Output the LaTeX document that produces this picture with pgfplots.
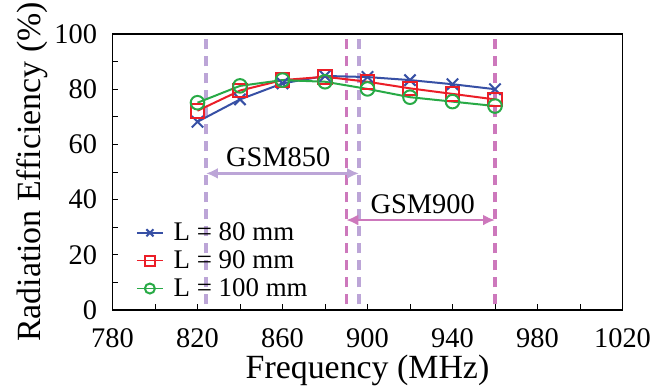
\documentclass[border=0pt]{standalone}
\usepackage{pgfplots}
\pgfplotsset{compat=1.18}
\usepackage{fontspec}
\setmainfont{Liberation Serif}
\usetikzlibrary{arrows.meta}
\definecolor{cblue}{RGB}{55,80,165}
\definecolor{cred}{RGB}{235,30,40}
\definecolor{cgreen}{RGB}{40,170,70}
\definecolor{clav}{RGB}{188,165,215}
\definecolor{cpink}{RGB}{205,120,188}
\begin{document}
\begin{tikzpicture}
\path[use as bounding box] (-112.5bp,-76bp) rectangle (555.5bp,310bp);
\begin{axis}[
  scale only axis,
  width=510bp, height=276bp,
  xmin=780, xmax=1020, ymin=0, ymax=100,
  xtick={780,820,...,1020},
  minor xtick={800,840,...,1000},
  ytick={0,20,...,100},
  minor ytick={10,30,...,90},
  tick align=inside,
  xtick pos=bottom, ytick pos=left,
  major tick length=6bp, minor tick length=6bp,
  tick style={line width=0.8bp, black},
  axis line style={line width=1.3bp},
  /pgf/number format/assume math mode=true,
  /pgf/number format/1000 sep={},
  ticklabel style={font=\fontsize{28.5}{30}\selectfont},
  xticklabel style={yshift=-15bp},
  yticklabel style={xshift=-12bp},
  xlabel={Frequency (MHz)},
  ylabel={Radiation Efficiency (\%)},
  label style={font=\fontsize{34}{36}\selectfont},
  xlabel style={yshift=0bp},
  ylabel style={yshift=0bp},
  clip=false,
  legend style={at={(0.04,0.33)}, anchor=north west, draw=none, fill=none,
    font=\fontsize{27}{28}\selectfont, row sep=4.5bp,
    legend cell align=left,
    nodes={inner xsep=10bp}},
  legend image code/.code={\draw[mark repeat=2,mark phase=2,line width=1.6bp,mark size=5bp] plot coordinates {(0bp,0bp) (13bp,0bp) (26bp,0bp)};},
]
% band markers
\draw[clav, line width=3.2bp, dash pattern=on 10bp off 7bp] (axis cs:824,2) -- (axis cs:824,100);
\draw[clav, line width=3.2bp, dash pattern=on 10bp off 7bp] (axis cs:896,2) -- (axis cs:896,100);
\draw[cpink, line width=3.2bp, dash pattern=on 10bp off 7bp] (axis cs:890,2) -- (axis cs:890,100);
\draw[cpink, line width=3.2bp, dash pattern=on 10bp off 7bp] (axis cs:960,2) -- (axis cs:960,100);
\draw[clav, line width=2.5bp, {Latex[length=12bp,width=11bp]}-{Latex[length=12bp,width=11bp]}] (axis cs:824,49.5) -- (axis cs:896,49.5);
\draw[cpink, line width=2.5bp, {Latex[length=12bp,width=11bp]}-{Latex[length=12bp,width=11bp]}] (axis cs:890,32.6) -- (axis cs:960,32.6);
\node[font=\fontsize{28.5}{30}\selectfont] at (axis cs:858,55.5) {GSM850};
\node[font=\fontsize{28.5}{30}\selectfont] at (axis cs:926,38.5) {GSM900};

\addplot[cblue, line width=2bp, mark=x, mark size=8bp, mark options={line width=2bp}] coordinates {
(820,68.2) (840,76.3) (860,82.1) (880,84.8) (900,84.4) (920,83.3) (940,81.8) (960,80.0)};
\addlegendentry{L = 80 mm}
\addplot[cred, line width=2bp, mark=square, mark size=6.8bp, mark options={line width=2bp}] coordinates {
(820,72.2) (840,79.5) (860,83.3) (880,84.5) (900,82.7) (920,80.3) (940,78.3) (960,76.3)};
\addlegendentry{L = 90 mm}
\addplot[cgreen, line width=2bp, mark=o, mark size=6.8bp, mark options={line width=2bp}] coordinates {
(820,75.1) (840,81.2) (860,83.3) (880,82.7) (900,80.1) (920,77.1) (940,75.5) (960,73.9)};
\addlegendentry{L = 100 mm}
\end{axis}
\end{tikzpicture}
\end{document}
